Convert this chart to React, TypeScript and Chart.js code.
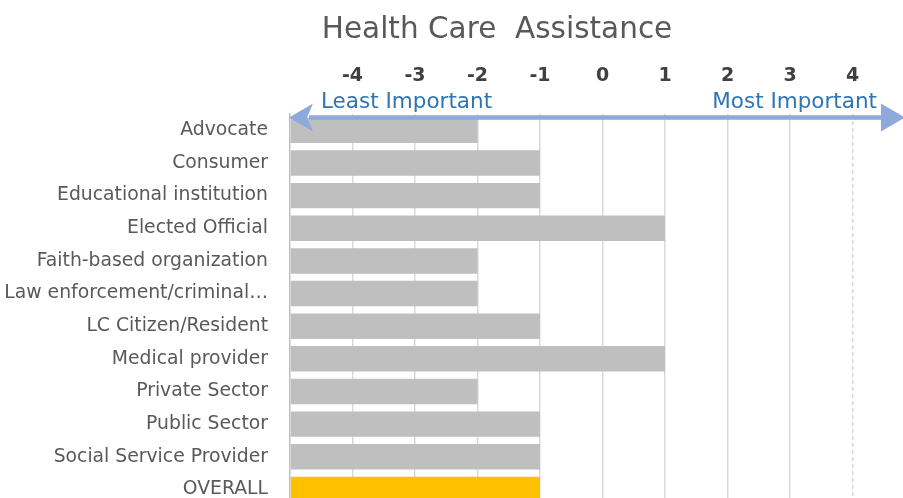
import React, { useEffect, useRef } from "react";
import { Chart, registerables } from "chart.js";

Chart.register(...registerables);

const categories = [
  "Advocate",
  "Consumer",
  "Educational institution",
  "Elected Official",
  "Faith-based organization",
  "Law enforcement/criminal…",
  "LC Citizen/Resident",
  "Medical provider",
  "Private Sector",
  "Public Sector",
  "Social Service Provider",
  "OVERALL",
];
const values = [-2, -1, -1, 1, -2, -2, -1, 1, -2, -1, -1, -1];
const barColors = [
  "#BFBFBF", "#BFBFBF", "#BFBFBF", "#BFBFBF", "#BFBFBF", "#BFBFBF",
  "#BFBFBF", "#BFBFBF", "#BFBFBF", "#BFBFBF", "#BFBFBF", "#FFC000",
];
const axisMin = -5;
const axisMax = 5;
const shownTicks = [-4, -3, -2, -1, 0, 1, 2, 3, 4];
const dashedTick = 4;
const titleText = "Health Care  Assistance";
const leftArrowLabel = "Least Important";
const rightArrowLabel = "Most Important";

const FONT = "'DejaVu Sans', sans-serif";

const titlePlugin = {
  id: "centeredTitle",
  afterDraw(chart: any) {
    const { ctx } = chart;
    ctx.save();
    ctx.fillStyle = "#595959";
    ctx.font = `29.5px ${FONT}`;
    ctx.textAlign = "center";
    ctx.textBaseline = "alphabetic";
    ctx.fillText(titleText, 497, 38);
    ctx.restore();
  },
};

const arrowPlugin = {
  id: "importanceArrow",
  afterDraw(chart: any) {
    const { ctx, chartArea, scales } = chart;
    const xs = scales.x;
    const y = chartArea.top + 3.5;
    const x0 = xs.getPixelForValue(axisMin) - 1;
    const x1 = chartArea.right - 10;
    const headL = 24;
    const headH = 14;
    ctx.save();
    ctx.fillStyle = "#8EA9DB";
    ctx.strokeStyle = "#8EA9DB";
    ctx.lineWidth = 4.5;
    ctx.beginPath();
    ctx.moveTo(x0 + headL - 4, y);
    ctx.lineTo(x1 - headL + 4, y);
    ctx.stroke();
    ctx.beginPath();
    ctx.moveTo(x0, y);
    ctx.lineTo(x0 + headL, y - headH);
    ctx.lineTo(x0 + headL - 6, y);
    ctx.lineTo(x0 + headL, y + headH);
    ctx.closePath();
    ctx.fill();
    ctx.beginPath();
    ctx.moveTo(x1, y);
    ctx.lineTo(x1 - headL, y - headH);
    ctx.lineTo(x1 - headL, y + headH);
    ctx.closePath();
    ctx.fill();
    ctx.fillStyle = "#2E75B6";
    ctx.font = `21.5px ${FONT}`;
    ctx.textBaseline = "alphabetic";
    ctx.textAlign = "left";
    ctx.fillText(leftArrowLabel, x0 + 32, y - 10);
    ctx.textAlign = "right";
    ctx.fillText(rightArrowLabel, x1 - 28, y - 10);
    ctx.restore();
  },
};

export default function App() {
  const ref = useRef<HTMLCanvasElement | null>(null);
  useEffect(() => {
    if (!ref.current) return;
    const chart = new Chart(ref.current, {
      type: "bar",
      data: {
        labels: categories,
        datasets: [
          {
            data: values,
            base: axisMin,
            backgroundColor: barColors,
            borderWidth: 0,
            barPercentage: 0.78,
            categoryPercentage: 1,
            xAxisID: "x",
          } as any,
        ],
      },
      options: {
        indexAxis: "y",
        animation: false,
        responsive: false,
        maintainAspectRatio: false,
        layout: { padding: { left: 0, right: 79, top: 44, bottom: 0 } },
        plugins: {
          legend: { display: false },
          tooltip: { enabled: false },
          title: { display: false },
        },
        scales: {
          x: {
            position: "top",
            min: axisMin,
            max: axisMax,
            afterBuildTicks: (s: any) => {
              s.ticks = [axisMin, ...shownTicks, axisMax].map((v) => ({ value: v }));
            },
            afterFit: (s: any) => {
              s.height = 70;
            },
            ticks: {
              color: "#404040",
              font: { family: FONT, size: 19, weight: "bold" },
              padding: 27,
              maxRotation: 0,
              callback: (v: any) => (shownTicks.includes(Number(v)) ? String(v) : ""),
            },
            grid: {
              color: (c: any) =>
                c.tick && (c.tick.value === dashedTick || c.tick.value === axisMin)
                  ? "rgba(0,0,0,0)"
                  : "#D9D9D9",
              lineWidth: 1.5,
              drawTicks: false,
            },
            border: { display: false },
          },
          x2: {
            position: "top",
            min: axisMin,
            max: axisMax,
            display: true,
            afterBuildTicks: (s: any) => {
              s.ticks = [dashedTick].map((v) => ({ value: v }));
            },
            afterFit: (s: any) => {
              s.height = 0;
            },
            ticks: { display: false },
            grid: {
              color: "#D9D9D9",
              lineWidth: 1.5,
              drawTicks: false,
            },
            border: { display: false, dash: [4, 3] },
          },
          y: {
            afterFit: (s: any) => {
              s.width = 290;
            },
            ticks: {
              color: "#595959",
              font: { family: FONT, size: 18.8 },
              padding: 22,
            },
            grid: { display: false, drawTicks: false },
            border: { display: true, color: "#BFBFBF", width: 1.5 },
          },
        },
      },
      plugins: [titlePlugin, arrowPlugin],
    });
    return () => chart.destroy();
  }, []);
  return (
    <div
      style={{
        position: "absolute",
        left: 0,
        top: 0,
        width: 903,
        height: 498,
        overflow: "hidden",
        background: "#fff",
      }}
    >
      <canvas ref={ref} width={994} height={539} style={{ display: "block" }} />
    </div>
  );
}
